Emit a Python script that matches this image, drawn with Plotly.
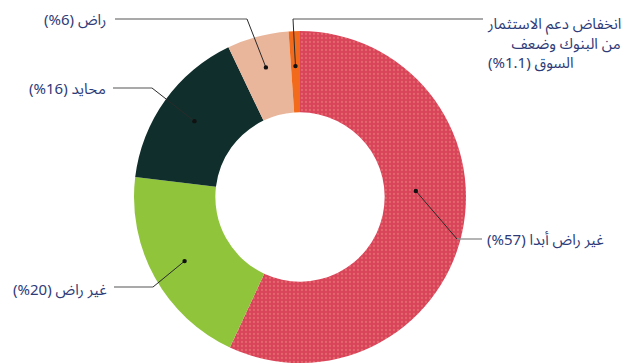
import math
import plotly.graph_objects as go

# Survey shares (percent), drawn clockwise from 12 o'clock
labels = [
    "غير راض أبدا",
    "غير راض",
    "محايد",
    "راض",
    "انخفاض دعم الاستثمار من البنوك وضعف السوق",
]
values = [57, 20, 16, 6, 1.1]
value_text = ["57%", "20%", "16%", "6%", "1.1%"]
colors = ["#d9445a", "#8fc43b", "#0f2e2c", "#e9b59b", "#f26b1d"]
# the smallest slice's label is set on three lines
small_label_lines = ["انخفاض دعم الاستثمار", "من البنوك وضعف", "السوق"]

W, H = 641, 363
CX, CY, R = 300, 197, 166          # pie centre / radius in pixels
HOLE = 0.51

RLE, PDF = "\u202b", "\u202c"
NBSP = "\u00a0"


def rtl(s):
    return RLE + s + PDF


def px(x):
    return x / W


def py(y):
    return 1 - y / H


fig = go.Figure(
    go.Pie(
        labels=labels,
        values=values,
        hole=HOLE,
        sort=False,
        direction="clockwise",
        rotation=0,
        textinfo="none",
        hoverinfo="label+percent",
        marker=dict(
            colors=colors,
            line=dict(width=0),
            pattern=dict(
                shape=[".", "", "", "", ""],
                fgcolor=["#ec8a80", "#8fc43b", "#0f2e2c", "#e9b59b", "#f26b1d"],
                bgcolor=colors,
                size=4,
                solidity=0.25,
                fillmode="overlay",
            ),
        ),
        domain=dict(x=[(CX - R) / W, (CX + R) / W], y=[0, (2 * R) / H]),
        showlegend=False,
    )
)

# Leader-line anchor: angle inside each slice (mid-angle unless overridden)
total = sum(values)
cum = 0
anchors = []
for v in values:
    anchors.append((cum + v / 2) / total * 360)
    cum += v
anchors[0] = 87          # big slice: anchor sits on its right-hand side
anchor_r = [116, 132, 130, 134, 131]

# Label layout: elbow point, end of horizontal rule, text anchor
label_layout = [
    dict(kink=(457, 239), end=(482, 239), tx=487, ty=240, side="left"),
    dict(kink=(153, 287), end=(114, 287), tx=107, ty=290, side="right"),
    dict(kink=(152, 88), end=(113, 88), tx=106, ty=89, side="right"),
    dict(kink=(247, 19), end=(115, 19), tx=106, ty=20, side="right"),
    dict(kink=(293, 19), end=(483, 19), tx=487, ty=8, side="left"),
]

shapes = []
for ang, r, lay in zip(anchors, anchor_r, label_layout):
    a = math.radians(ang)
    dx, dy = CX + r * math.sin(a), CY - r * math.cos(a)
    kx, ky = lay["kink"]
    ex, ey = lay["end"]
    shapes.append(dict(type="line", xref="paper", yref="paper",
                       x0=px(kx), y0=py(ky), x1=px(ex), y1=py(ey),
                       line=dict(color="#8c8c8c", width=1.3)))
    shapes.append(dict(type="line", xref="paper", yref="paper",
                       x0=px(dx), y0=py(dy), x1=px(kx), y1=py(ky),
                       line=dict(color="#2a2a2a", width=1)))
    shapes.append(dict(type="circle", xref="paper", yref="paper",
                       x0=px(dx - 2.2), x1=px(dx + 2.2),
                       y0=py(dy + 2.2), y1=py(dy - 2.2),
                       fillcolor="#111111", line=dict(width=0)))

font = dict(family="Noto Sans Arabic, DejaVu Sans, sans-serif", size=15, color="#2e3b78")
ann_base = dict(xref="paper", yref="paper", showarrow=False,
                font=font, borderpad=0, borderwidth=0)

annotations = []
for i in range(4):
    lay = label_layout[i]
    annotations.append(dict(
        ann_base,
        text=rtl(f"{labels[i]} ({value_text[i]})"),
        x=px(lay["tx"]), y=py(lay["ty"]), yanchor="middle",
        xanchor="left" if lay["side"] == "left" else "right",
    ))

# Three-line label for the smallest slice: left-aligned block, middle line
# padded so that it closes flush with the first line
lay = label_layout[4]
block = "<br>".join([
    rtl(small_label_lines[0]),
    rtl(small_label_lines[1] + NBSP * 6),
    rtl(f"{small_label_lines[2]} ({value_text[4]})"),
])
annotations.append(dict(
    ann_base, text=block,
    x=px(lay["tx"]), y=py(lay["ty"]),
    xanchor="left", yanchor="top", align="left",
))

fig.update_layout(
    width=W, height=H,
    margin=dict(l=0, r=0, t=0, b=0),
    paper_bgcolor="white",
    plot_bgcolor="white",
    shapes=shapes,
    annotations=annotations,
)

fig.write_html("out.html")
